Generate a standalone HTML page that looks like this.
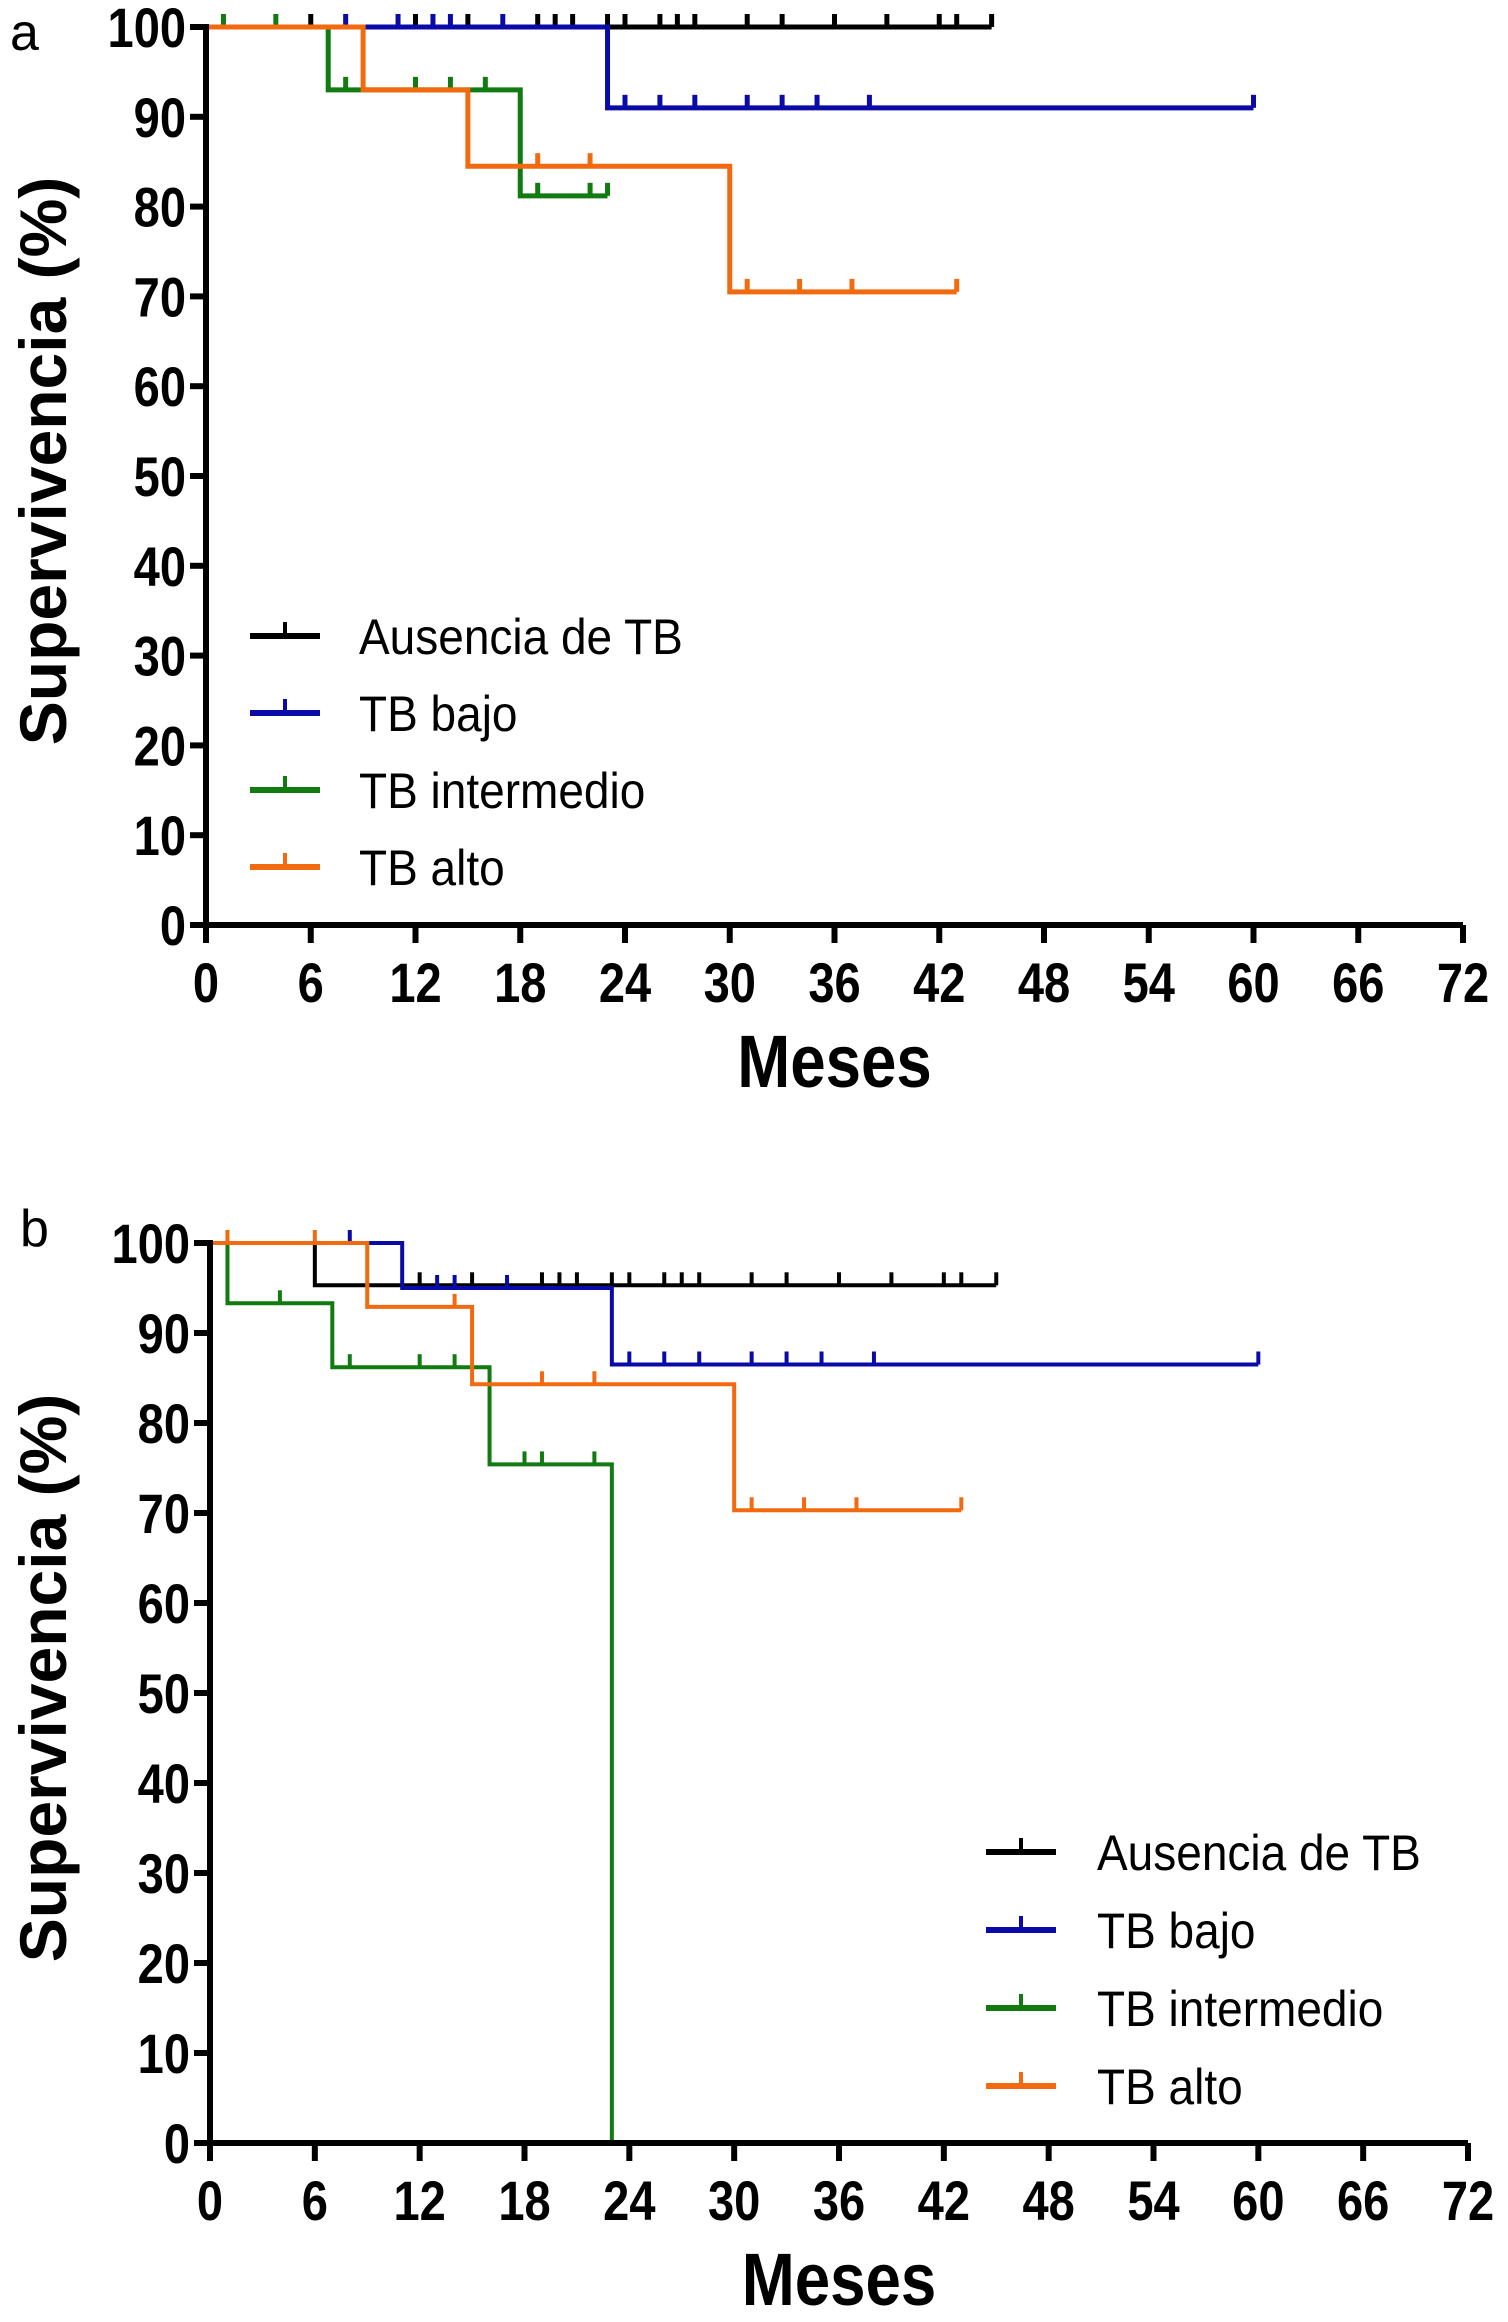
<!DOCTYPE html>
<html><head><meta charset="utf-8">
<style>
html,body{margin:0;padding:0;background:#fff;}
svg{display:block;font-family:"Liberation Sans",sans-serif;}
</style></head>
<body>
<svg id="chart" width="1508" height="2322" viewBox="0 0 1508 2322" xmlns="http://www.w3.org/2000/svg">
<rect width="1508" height="2322" fill="#fff"/>
</svg>
<script>
// ---- data ----
const xTicks = [0,6,12,18,24,30,36,42,48,54,60,66,72];
const yTicks = [0,10,20,30,40,50,60,70,80,90,100];
const seriesNames = ["Ausencia de TB","TB bajo","TB intermedio","TB alto"];
const seriesColors = ["#000000","#0a0aa8","#117a11","#f26a0f"];

// panel a: step points [time, survival], censor times
const aBlackSteps = [[0,100],[45,100]];
const aBlackCens = [6,12,15,19,20,21,23,24,26,27,28,31,33,36,39,42,43,45];
const aBlueSteps = [[0,100],[23,91],[60,91]];
const aBlueCens = [8,11,13,14,17,24,26,28,31,33,35,38,60];
const aGreenSteps = [[0,100],[7,93],[18,81.2],[23,81.2]];
const aGreenCens = [1,4,8,12,14,16,19,22,23];
const aOrangeSteps = [[0,100],[9,93],[15,84.5],[30,70.5],[43,70.5]];
const aOrangeCens = [19,22,31,34,37,43];

// panel b
const bBlackSteps = [[0,100],[6,95.3],[45,95.3]];
const bBlackCens = [12,15,19,20,21,23,24,26,27,28,31,33,36,39,42,43,45];
const bBlueSteps = [[0,100],[11,95],[23,86.5],[60,86.5]];
const bBlueCens = [8,13,14,17,24,26,28,31,33,35,38,60];
const bGreenSteps = [[0,100],[1,93.3],[7,86.2],[16,75.4],[23,0]];
const bGreenCens = [4,8,12,14,18,19,22];
const bOrangeSteps = [[0,100],[9,92.9],[15,84.3],[30,70.3],[43,70.3]];
const bOrangeCens = [1,6,14,19,22,31,34,37,43];

const NS = "http://www.w3.org/2000/svg";
const svg = document.getElementById("chart");
function mk(tag, attrs, parent){
  const e = document.createElementNS(NS, tag);
  for (const k in attrs) e.setAttribute(k, attrs[k]);
  (parent||svg).appendChild(e);
  return e;
}
function survAt(steps, t){
  let v = steps[0][1];
  for (const s of steps) if (s[0] <= t) v = s[1];
  return v;
}

function panel(cfg){
  const g = mk("g", {});
  
  
  const X = t => cfg.x0 + (t/72)*(cfg.x1-cfg.x0);
  const Y = v => cfg.y0 - (v/100)*(cfg.y0-cfg.y100);

  const lt = mk("text", {x:cfg.letterX, y:cfg.letterY, "font-size":52, fill:"#000"}, g);
  lt.textContent = cfg.letter;
  
  

  cfg.series.forEach((s, i) => {
    const sg = mk("g", {}, g);
    
    
    let d = "M" + X(s.steps[0][0]) + "," + Y(s.steps[0][1]);
    for (let k = 1; k < s.steps.length; k++){
      d += " H" + X(s.steps[k][0]) + " V" + Y(s.steps[k][1]);
    }
    const p = mk("path", {d:d, fill:"none", stroke:seriesColors[i], "stroke-width":cfg.lw, "stroke-linejoin":"miter"}, sg);
    
    
    s.cens.forEach(t => {
      const v = survAt(s.steps, t);
      const c = mk("line", {x1:X(t), x2:X(t), y1:Y(v), y2:Y(v)-13, stroke:seriesColors[i], "stroke-width":cfg.lw}, sg);
      
      
    });
  });

  const ax = mk("path", {d:`M${cfg.x0},${cfg.y100-3} V${cfg.y0} H${cfg.x1}`, fill:"none", stroke:"#000", "stroke-width":6}, g);
  
  

  yTicks.forEach(v => {
    const tl = mk("line", {x1:cfg.x0-16, x2:cfg.x0, y1:Y(v), y2:Y(v), stroke:"#000", "stroke-width":6}, g);
    
    
    const tx = mk("text", {x:0, y:0, "font-size":56, "font-weight":"bold", "text-anchor":"end", fill:"#000", transform:`translate(${cfg.x0-20},${Y(v)+20}) scale(0.84,1)`}, g);
    tx.textContent = v;
    
    
  });
  xTicks.forEach(t => {
    const tl = mk("line", {x1:X(t), x2:X(t), y1:cfg.y0, y2:cfg.y0+18, stroke:"#000", "stroke-width":6}, g);
    
    
    const tx = mk("text", {x:0, y:0, "font-size":56, "font-weight":"bold", "text-anchor":"middle", fill:"#000", transform:`translate(${X(t)},${cfg.y0+77}) scale(0.84,1)`}, g);
    tx.textContent = t;
    
    
  });
  const xt = mk("text", {x:0, y:0, "font-size":74, "font-weight":"bold", "text-anchor":"middle", fill:"#000", transform:`translate(${(cfg.x0+cfg.x1)/2},${cfg.y0+162}) scale(0.86,1)`}, g);
  xt.textContent = "Meses";
  
  
  const cy = (cfg.y0+cfg.y100)/2 - 15;
  const yt = mk("text", {x:0, y:0, "font-size":66, "font-weight":"bold", "text-anchor":"middle", fill:"#000", transform:`translate(66,${cy}) rotate(-90)`}, g);
  yt.textContent = "Supervivencia (%)";
  
  

  const lg = mk("g", {}, g);
  
  
  seriesNames.forEach((n, i) => {
    const ry = cfg.legY + i*cfg.legGap;
    const eg = mk("g", {}, lg);
    
    
    mk("line", {x1:cfg.legX, x2:cfg.legX+70, y1:ry, y2:ry, stroke:seriesColors[i], "stroke-width":6}, eg);
    mk("line", {x1:cfg.legX+35, x2:cfg.legX+35, y1:ry, y2:ry-14, stroke:seriesColors[i], "stroke-width":4}, eg);
    const t = mk("text", {x:0, y:0, "font-size":50, fill:"#000", transform:`translate(${cfg.legTextX},${ry+18}) scale(0.92,1)`}, eg);
    t.textContent = n;
  });
}

panel({
  name:"panel-a", letter:"a", letterX:10, letterY:50,
  x0:206, x1:1463, y100:27, y0:925, lw:5,
  legX:250, legTextX:359, legY:636, legGap:77,
  series:[
    {steps:aBlackSteps, cens:aBlackCens},
    {steps:aBlueSteps, cens:aBlueCens},
    {steps:aGreenSteps, cens:aGreenCens},
    {steps:aOrangeSteps, cens:aOrangeCens}
  ]
});
panel({
  name:"panel-b", letter:"b", letterX:20, letterY:1246,
  x0:210, x1:1468, y100:1243, y0:2143, lw:4,
  legX:986, legTextX:1097, legY:1852, legGap:78,
  series:[
    {steps:bBlackSteps, cens:bBlackCens},
    {steps:bBlueSteps, cens:bBlueCens},
    {steps:bGreenSteps, cens:bGreenCens},
    {steps:bOrangeSteps, cens:bOrangeCens}
  ]
});
</script>
</body></html>
